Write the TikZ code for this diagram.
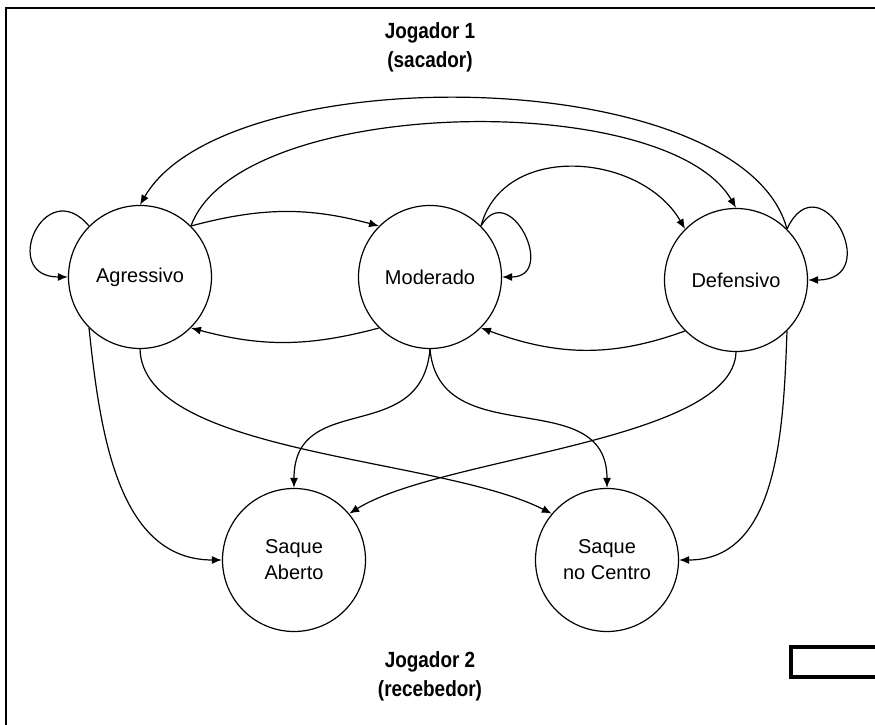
\documentclass[tikz,border=0pt]{standalone}
\usepackage{fontspec}
\setmainfont{Liberation Sans}
\newfontfamily\titlefont[FakeStretch=0.86]{Liberation Sans}
\usetikzlibrary{arrows.meta}

\begin{document}
\begin{tikzpicture}[x=1pt, y=1pt,
    estado/.style={draw, circle, line width=1.2pt, minimum size=143pt,
      inner sep=0pt, align=center, font=\fontsize{20}{26}\selectfont},
    jogador/.style={align=center,
      font=\titlefont\bfseries\fontsize{22}{29}\selectfont},
    trans/.style={line width=1.2pt, -{Latex[length=10pt,width=8pt]}}]
    \useasboundingbox (0,0) rectangle (875,725);
    % Frame
    \draw[line width=2pt] (880,717) -- (6,717) -- (6,-5);
    \draw[line width=4pt] (791,48) rectangle (890,78);
    % Players
    \node[jogador] (jog1) at (430,678) {Jogador 1\\(sacador)};
    \node[jogador] (jog2) at (430,49) {Jogador 2\\(recebedor)};
    % States of player 1
    \node[estado] (agressivo) at (140,448) {Agressivo};
    \node[estado] (moderado) at (430,448) {Moderado};
    \node[estado] (defensivo) at (736,445) {Defensivo};
    % States of player 2
    \node[estado] (aberto) at (294,165) {Saque\\Aberto};
    \node[estado] (centro) at (607,165) {Saque\\no Centro};
    % Self loops
    \draw[trans] (agressivo.135) to[out=130,in=180,looseness=3.2] (agressivo.180);
    \draw[trans] (moderado.45) to[out=60,in=0,looseness=2.6] (moderado.0);
    \draw[trans] (defensivo.45) to[out=65,in=0,looseness=3.6] (defensivo.0);
    % Between neighbours
    \draw[trans] (agressivo.45) to[out=15,in=165] (moderado.135);
    \draw[trans] (moderado.225) to[out=195,in=-15] (agressivo.-45);
    \draw[trans] (moderado.45) to[out=75,in=120,looseness=1.1] (defensivo.135);
    \draw[trans] (defensivo.225) to[out=200,in=-20] (moderado.-45);
    % Long arcs on top
    \draw[trans] (defensivo.45) to[out=105,in=60,looseness=0.68] (agressivo.90);
    \draw[trans] (agressivo.45) to[out=70,in=120,looseness=0.65] (defensivo.90);
    % Towards the serves
    \draw[trans] (agressivo.225) to[out=-84,in=180] (aberto.180);
    \draw[trans] (agressivo.270) .. controls +(3,-106) and +(-112,57) .. (centro.140);
    \draw[trans] (moderado.270) to[out=-95,in=90,looseness=1.3] (aberto.90);
    \draw[trans] (moderado.270) to[out=-85,in=90,looseness=1.2] (centro.90);
    \draw[trans] (defensivo.270) .. controls +(-3,-90) and +(91,57) .. (aberto.40);
    \draw[trans] (defensivo.-45) to[out=-92,in=0] (centro.0);
\end{tikzpicture}
\end{document}
